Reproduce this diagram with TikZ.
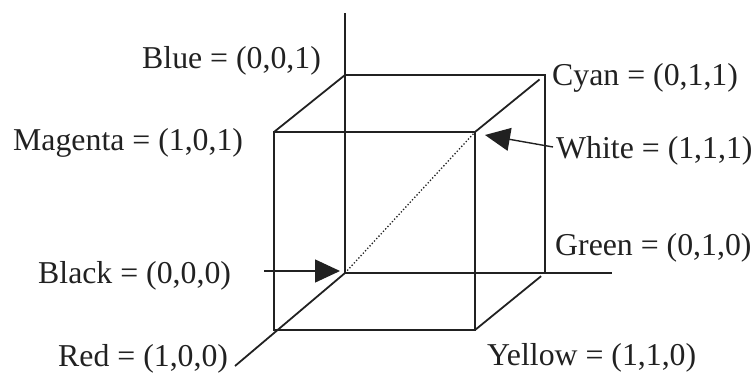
\documentclass[tikz,border=0pt]{standalone}
\usepackage{fontspec}
\setmainfont{Liberation Serif}
\usetikzlibrary{arrows.meta}
\definecolor{ink}{gray}{0.13}
\tikzset{
  edge/.style={draw=ink,line width=1.8pt},
  lab/.style={font=\fontsize{31.8}{34}\selectfont,text=ink,inner sep=0pt,anchor=base west},
  arrow/.style={draw=ink,line width=1.4pt,-{Triangle[length=25pt,width=23pt]}}
}
\begin{document}
\begin{tikzpicture}[x=1pt,y=-1pt]
\useasboundingbox (0,0) rectangle (753,373);
\coordinate (O) at (345,273);
\coordinate (zt) at (345,13);
\coordinate (B) at (345,75);
\coordinate (C) at (545,75);
\coordinate (G) at (545,273);
\coordinate (gt) at (612,273);
\coordinate (M) at (274,132);
\coordinate (W) at (475,132);
\coordinate (R) at (274,330);
\coordinate (Y) at (475,330);
\coordinate (rt) at (235,366);
\draw[edge] (zt)--(O)--(gt);
\draw[edge] (O)--(rt);
\draw[edge] (B)--(C)--(G);
\draw[edge] (M)--(W)--(Y)--(R)--cycle;
\draw[edge] (B)--(M);
\draw[edge,shorten >=7pt] (W)--(C);
\draw[edge,shorten <=5pt] (G)--(Y);
\draw[ink,line width=1.3pt,dotted] (O)--(W);
\node[lab] (lblue) at (142,68.5) {Blue = (0,0,1)};
\node[lab] (lcyan) at (552,85) {Cyan = (0,1,1)};
\node[lab] (lmag) at (13,150) {Magenta = (1,0,1)};
\node[lab] (lwhite) at (556,158) {White = (1,1,1)};
\node[lab] (lgreen) at (555,255.5) {Green = (0,1,0)};
\node[lab] (lblack) at (38,283) {Black = (0,0,0)};
\node[lab] (lred) at (58,366) {Red = (1,0,0)};
\node[lab] (lyel) at (487,365.5) {Yellow = (1,1,0)};
\coordinate (a1) at (553,147);
\coordinate (a2) at (264,271);
\draw[arrow] (a1)--(485,135);
\draw[arrow] (a2)--(340,271);
\end{tikzpicture}
\end{document}
